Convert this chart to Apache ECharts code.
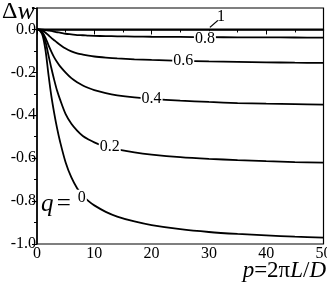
<!DOCTYPE html>
<html>
<head>
<meta charset="utf-8">
<script src="https://cdn.jsdelivr.net/npm/echarts@6/dist/echarts.min.js"></script>
<style>html,body{margin:0;padding:0;background:#fff;}#c{width:327px;height:287px;}</style>
</head>
<body>
<div id="c"></div>
<script>
var P = [0, 0.5, 1, 1.5, 2, 2.5, 3, 3.5, 4, 5, 6, 7, 8, 9, 10, 12, 14, 17, 20, 25, 30, 35, 40, 45, 50];
var Q0  = [0, -0.005, -0.03, -0.10, -0.21, -0.31, -0.39, -0.46, -0.52, -0.62, -0.69, -0.74, -0.775, -0.80, -0.82, -0.85, -0.872, -0.895, -0.912, -0.931, -0.944, -0.953, -0.96, -0.966, -0.97];
var Q02 = [0, -0.004, -0.02, -0.06, -0.12, -0.18, -0.235, -0.285, -0.325, -0.395, -0.44, -0.472, -0.497, -0.513, -0.526, -0.546, -0.559, -0.573, -0.583, -0.595, -0.603, -0.609, -0.614, -0.618, -0.621];
var Q04 = [0, -0.003, -0.015, -0.04, -0.073, -0.103, -0.13, -0.152, -0.171, -0.201, -0.227, -0.246, -0.261, -0.273, -0.283, -0.297, -0.307, -0.317, -0.324, -0.332, -0.338, -0.343, -0.346, -0.348, -0.35];
var Q06 = [0, -0.001, -0.006, -0.015, -0.027, -0.039, -0.05, -0.061, -0.071, -0.089, -0.102, -0.111, -0.117, -0.122, -0.126, -0.131, -0.135, -0.139, -0.142, -0.146, -0.149, -0.151, -0.153, -0.155, -0.156];
var Q08 = [0, 0, -0.001, -0.003, -0.005, -0.007, -0.01, -0.013, -0.015, -0.02, -0.023, -0.026, -0.027, -0.029, -0.030, -0.031, -0.032, -0.033, -0.034, -0.035, -0.036, -0.0365, -0.037, -0.0375, -0.038];
var Q1  = [0, 0, 0, 0, 0, 0, 0, 0, 0, 0, 0, 0, 0, 0, 0, 0, 0, 0, 0, 0, 0, 0, 0, 0, 0];
var CURVE_NAMES = ['0', '0.2', '0.4', '0.6', '0.8', '1'];
var LABEL_P = [8, 12, 20, 25, 30, 30];
var X_TICKS = [0, 10, 20, 30, 40, 50];
var Y_TICKS = [-1.0, -0.8, -0.6, -0.4, -0.2, 0.0];

var serif = 'Liberation Serif';
var allVals = [Q0, Q02, Q04, Q06, Q08, Q1];
var labelOffsets = [[-1, 2], [4, 0], [0, 0], [3, 0], [-4, 2], [12, -13]];

function pairs(v) { return P.map(function (p, i) { return [p, v[i]]; }); }

var series = allVals.map(function (v, k) {
  var idx = P.indexOf(LABEL_P[k]);
  var mp = [{
    coord: [P[idx], v[idx]],
    symbol: 'rect', symbolSize: 1,
    itemStyle: { color: 'transparent' },
    label: {
      show: true, formatter: CURVE_NAMES[k], position: 'inside',
      offset: labelOffsets[k],
      fontFamily: serif, fontSize: 16, color: '#000',
      backgroundColor: k === 5 ? 'transparent' : '#fff', padding: [0, 1]
    }
  }];
  if (k === 5) {
    mp.push({
      coord: [P[idx], v[idx]],
      symbol: 'path://M0,8L8,0', symbolSize: [8, 7], symbolOffset: [5, -5.5],
      itemStyle: { color: 'transparent', borderColor: '#000', borderWidth: 1.2 },
      label: { show: false }
    });
  }
  return {
    type: 'line', data: pairs(v), showSymbol: false, smooth: 0.3,
    lineStyle: { color: '#000', width: 1.8 }, silent: true,
    markPoint: { silent: true, animation: false, data: mp }
  };
});

var chart = echarts.init(document.getElementById('c'), null, { renderer: 'canvas' });
chart.setOption({
  animation: false,
  backgroundColor: '#fff',
  grid: { left: 37, right: 3.5, top: 8, bottom: 43, containLabel: false, outerBoundsMode: 'none',
    show: true, borderColor: '#000', borderWidth: 1.2, backgroundColor: 'transparent' },
  xAxis: {
    type: 'value', min: 0, max: 50, interval: 10,
    axisLine: { lineStyle: { color: '#000', width: 1.5 } },
    axisTick: { length: 5, lineStyle: { color: '#000' } },
    minorTick: { show: true, splitNumber: 2, length: 3, lineStyle: { color: '#000' } },
    splitLine: { show: false },
    axisLabel: { fontFamily: serif, fontSize: 16, color: '#000', margin: 2,
      formatter: function (v) { return X_TICKS.indexOf(v) >= 0 ? String(v) : ''; } }
  },
  yAxis: {
    type: 'value', min: -1.0, max: 0.1, interval: 0.2,
    axisLine: { lineStyle: { color: '#000', width: 1.5 } },
    axisTick: { length: 5, lineStyle: { color: '#000' } },
    minorTick: { show: true, splitNumber: 2, length: 3, lineStyle: { color: '#000' } },
    splitLine: { show: false },
    axisLabel: { fontFamily: serif, fontSize: 16, color: '#000', margin: 1, showMaxLabel: false,
      formatter: function (v) {
        for (var i = 0; i < Y_TICKS.length; i++) { if (Math.abs(Y_TICKS[i] - v) < 1e-6) return Y_TICKS[i].toFixed(1); }
        return '';
      } }
  },
  graphic: [
    { type: 'text', left: 2, top: -1, style: { text: '{a|Δ}{b|w}', rich: {
      a: { fontFamily: serif, fontSize: 24, fill: '#000' },
      b: { fontFamily: serif, fontSize: 26, fontStyle: 'italic', fill: '#000' } } } },
    { type: 'text', right: 1, top: 259, style: { text: '{i|p}{n|=2π}{i|L}{n|/}{i|D}', rich: {
      i: { fontFamily: serif, fontSize: 23, fontStyle: 'italic', fill: '#000' },
      n: { fontFamily: serif, fontSize: 23, fill: '#000' } } } },
    { type: 'text', left: 41, top: 192, style: { text: '{i|q} {n|=}', rich: {
      i: { fontFamily: serif, fontSize: 25, fontStyle: 'italic', fill: '#000' },
      n: { fontFamily: serif, fontSize: 25, fill: '#000' } } } }
  ],
  series: series
});
</script>
</body>
</html>
